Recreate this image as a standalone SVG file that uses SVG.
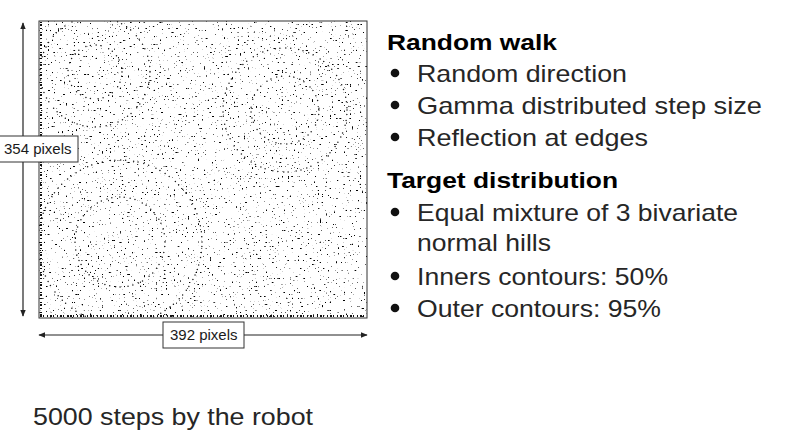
<svg xmlns="http://www.w3.org/2000/svg" width="787" height="439" viewBox="0 0 787 439">
<style>
.t{font-family:"Liberation Sans",Arial,sans-serif;font-size:24px;fill:#262626}
.b{font-family:"Liberation Sans",Arial,sans-serif;font-size:22px;font-weight:bold;fill:#000}
.lbl{font-family:"Liberation Sans",Arial,sans-serif;font-size:15px;fill:#1a1a1a}
.box{fill:#fff;stroke:#333;stroke-width:1}
.ax{stroke:#222;stroke-width:1.2;fill:none}
.ring{fill:none;stroke:#1a1a1a;stroke-width:1.5;stroke-linecap:round;stroke-dasharray:0 4.5 0 6 0 5 0 8}
</style>
<defs>
<filter id="spk" filterUnits="objectBoundingBox" x="0" y="0" width="1" height="1">
<feTurbulence type="fractalNoise" baseFrequency="0.5" numOctaves="1" seed="11"/>
<feColorMatrix type="matrix" values="0 0 0 0 0  0 0 0 0 0  0 0 0 0 0  18 0 0 0 -12.5"/>
</filter>
<clipPath id="sq"><rect x="39" y="21" width="328" height="297"/></clipPath>
<marker id="ah" viewBox="0 0 10 10" refX="9" refY="5" markerWidth="7" markerHeight="7" orient="auto-start-reverse" markerUnits="userSpaceOnUse">
<path d="M0,1 L10,5 L0,9 z" fill="#222"/>
</marker>
</defs>
<g id="plot">
<rect x="39" y="21" width="328" height="297" fill="#fff"/>
<rect x="39" y="21" width="328" height="297" fill="#fff" filter="url(#spk)"/>
<g clip-path="url(#sq)">
<circle class="ring" cx="95" cy="72" r="27"/>
<circle class="ring" cx="95" cy="72" r="55"/>
<circle class="ring" cx="285" cy="110" r="34"/>
<circle class="ring" cx="285" cy="110" r="62"/>
<circle class="ring" cx="120" cy="242" r="45"/>
<circle class="ring" cx="120" cy="242" r="82"/>
</g>
<line x1="41" y1="22" x2="41" y2="317" stroke="#111" stroke-width="2" stroke-dasharray="1 1 2 2 1 3"/>
<line x1="40" y1="316" x2="366" y2="316" stroke="#111" stroke-width="2" stroke-dasharray="2 1 1 3 1 2"/>
<rect x="39" y="21" width="328" height="297" fill="none" stroke="#333" stroke-width="1"/>
</g>
<g id="connectors">
<line class="ax" x1="23" y1="316" x2="23" y2="23" marker-start="url(#ah)" marker-end="url(#ah)"/>
<line class="ax" x1="39" y1="335" x2="367" y2="335" marker-start="url(#ah)" marker-end="url(#ah)"/>
</g>
<g id="label-354">
<rect class="box" x="-1" y="136" width="79" height="26"/>
<text class="lbl" x="4" y="154">354 pixels</text>
</g>
<g id="label-392">
<rect class="box" x="163" y="322" width="81" height="26"/>
<text class="lbl" x="170" y="340">392 pixels</text>
</g>
<g id="legend">
<text class="b" x="387" y="50" textLength="170" lengthAdjust="spacingAndGlyphs">Random walk</text>
<circle cx="395" cy="73" r="4.3" fill="#111"/>
<text class="t" x="417" y="82" textLength="210" lengthAdjust="spacingAndGlyphs">Random direction</text>
<circle cx="395" cy="105" r="4.3" fill="#111"/>
<text class="t" x="417" y="114" textLength="345" lengthAdjust="spacingAndGlyphs">Gamma distributed step size</text>
<circle cx="395" cy="137" r="4.3" fill="#111"/>
<text class="t" x="417" y="146" textLength="231" lengthAdjust="spacingAndGlyphs">Reflection at edges</text>
<text class="b" x="387" y="188" textLength="231" lengthAdjust="spacingAndGlyphs">Target distribution</text>
<circle cx="395" cy="212" r="4.3" fill="#111"/>
<text class="t" x="417" y="221" textLength="321" lengthAdjust="spacingAndGlyphs">Equal mixture of 3 bivariate</text>
<text class="t" x="417" y="251" textLength="134" lengthAdjust="spacingAndGlyphs">normal hills</text>
<circle cx="395" cy="276" r="4.3" fill="#111"/>
<text class="t" x="417" y="285" textLength="251" lengthAdjust="spacingAndGlyphs">Inners contours: 50%</text>
<circle cx="395" cy="308" r="4.3" fill="#111"/>
<text class="t" x="417" y="317" textLength="244" lengthAdjust="spacingAndGlyphs">Outer contours: 95%</text>
</g>
<g id="caption">
<text class="t" x="33" y="425" textLength="280" lengthAdjust="spacingAndGlyphs">5000 steps by the robot</text>
</g>
</svg>
